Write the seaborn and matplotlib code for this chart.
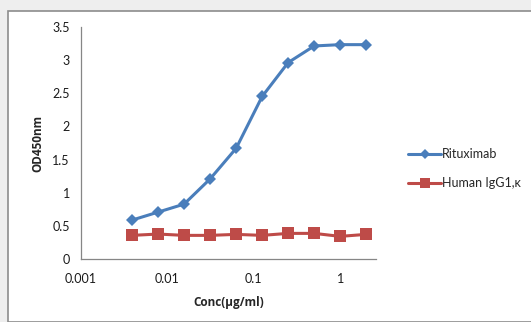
import pandas as pd
import matplotlib
matplotlib.use("Agg")
import matplotlib.pyplot as plt
import matplotlib.ticker as mticker
from matplotlib.patches import Rectangle
import seaborn as sns

# data (2-fold dilutions from 2 ug/ml)
conc = [0.0039, 0.0078, 0.0156, 0.03125, 0.0625, 0.125, 0.25, 0.5, 1, 2]
rituximab = [0.59, 0.71, 0.83, 1.21, 1.67, 2.45, 2.96, 3.21, 3.23, 3.23]
igg1 = [0.36, 0.38, 0.36, 0.36, 0.375, 0.36, 0.39, 0.39, 0.345, 0.375]
series_names = ["Rituximab", "Human IgG1,\u03ba"]
x_ticks = [0.001, 0.01, 0.1, 1]
x_tick_labels = ["0.001", "0.01", "0.1", "1"]
y_ticks = [0, 0.5, 1, 1.5, 2, 2.5, 3, 3.5]
y_tick_labels = ["0", "0.5", "1", "1.5", "2", "2.5", "3", "3.5"]

df = pd.DataFrame({
    "conc": conc * 2,
    "od": rituximab + igg1,
    "sample": [series_names[0]] * len(conc) + [series_names[1]] * len(conc),
})

sns.set_style("white")
plt.rcParams["font.family"] = ["Lato", "DejaVu Sans"]

fig = plt.figure(figsize=(5.31, 3.22), dpi=100)
fig.patch.set_facecolor("#eeeeee")
fig.patches.append(Rectangle((7.5 / 531, 0), 1, 1 - 10.5 / 322, transform=fig.transFigure,
                             facecolor="white", edgecolor="#8c8c8c", linewidth=1.2, zorder=-5))

ax = fig.add_axes([81 / 531, 62.7 / 322, 295 / 531, 232.6 / 322])
ax.set_zorder(2)
ax.set_facecolor("none")

sns.lineplot(data=df, x="conc", y="od", hue="sample", style="sample",
             palette=["#4a7ebb", "#be4b48"], markers=["D", "s"], dashes=False,
             linewidth=2.2, markeredgewidth=0, ax=ax, legend=False)
# square markers are larger in the reference
ax.lines[1].set_markersize(9)
ax.lines[0].set_markersize(6)

ax.set_xscale("log")
ax.set_xlim(0.001, 2.6)
ax.set_ylim(0, 3.5)
ax.xaxis.set_major_locator(mticker.FixedLocator(x_ticks))
ax.xaxis.set_major_formatter(mticker.FixedFormatter(x_tick_labels))
ax.xaxis.set_minor_locator(mticker.NullLocator())
ax.set_yticks(y_ticks)
ax.set_yticklabels(y_tick_labels)

for side in ["top", "right"]:
    ax.spines[side].set_visible(False)
for side in ["left", "bottom"]:
    ax.spines[side].set_color("#868686")
    ax.spines[side].set_linewidth(0.9)
ax.tick_params(axis="both", direction="out", length=4, width=0.9, color="#868686",
               labelsize=9, labelcolor="#1a1a1a", pad=4)
ax.tick_params(axis="x", pad=6)

ax.set_xlabel("Conc(\u03bcg/ml)", fontsize=8.5, fontweight="bold", labelpad=8,
              family=["Open Sans", "DejaVu Sans"])
ax.set_ylabel("OD450nm", fontsize=8.5, fontweight="bold", labelpad=6,
              family=["Open Sans", "DejaVu Sans"])

ax.legend(handles=ax.lines[:2], labels=series_names, loc="center left",
          bbox_to_anchor=(397 / 531, 153.5 / 322), bbox_transform=fig.transFigure,
          frameon=False, fontsize=9, handlelength=2.6, handletextpad=0.1,
          labelspacing=1.35, markerscale=0.8)

fig.savefig("out.png", dpi=100, facecolor=fig.get_facecolor())
